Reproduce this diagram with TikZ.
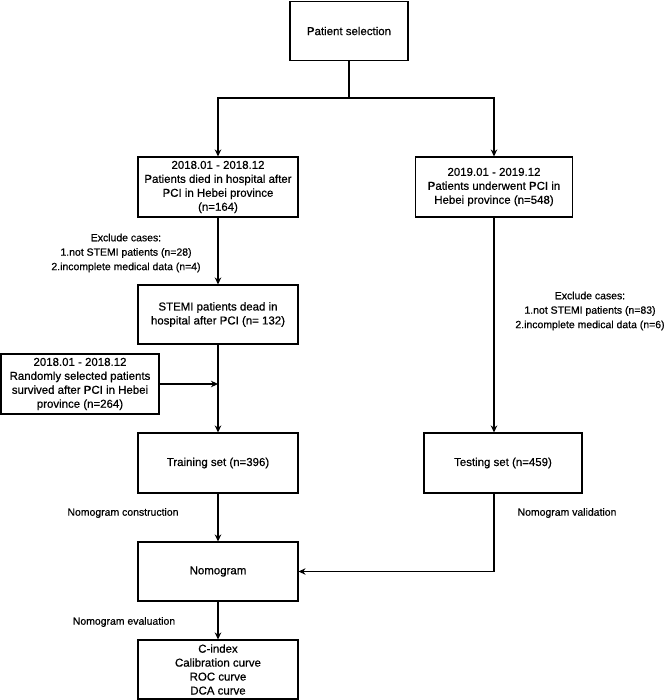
\documentclass[tikz,border=0pt]{standalone}
\usepackage{fontspec}
\setmainfont{Liberation Sans}
\usetikzlibrary{arrows.meta, positioning, calc}

\tikzset{
  box/.style={rectangle, draw=black, line width=1.1bp, fill=white,
              minimum width=160bp, minimum height=60bp, inner sep=1bp,
              align=center,
              font=\fontsize{11.5}{14}\selectfont\addfontfeatures{FakeBold=0.6}},
  note/.style={align=center, inner sep=0pt,
               font=\fontsize{10.5}{14.5}\selectfont\addfontfeatures{FakeBold=0.6}},
  link/.style={line width=1.1bp, draw=black},
  flow/.style={link, -{Stealth[length=7bp, width=6.5bp]}}
}

\begin{document}
\begin{tikzpicture}[x=1bp, y=-1bp]
    \useasboundingbox (0,0) rectangle (669,700);

    \node[box, minimum width=118bp, minimum height=59bp](sel) at (349,31)
         {Patient selection};
    \coordinate (split) at (349,98);

    \node[box](died) at (218,187)
         {2018.01 - 2018.12\\Patients died in hospital after\\PCI in Hebei province\\(n=164)};
    \node[box, minimum width=157bp](underwent) at (494,187)
         {2019.01 - 2019.12\\Patients underwent PCI in\\Hebei province (n=548)};

    \node[note](excl1) at (126,253)
         {Exclude cases:\\1.not STEMI patients (n=28)\\2.incomplete medical data (n=4)};

    \node[box, minimum height=59bp](stemi) at (218,314.5)
         {STEMI patients dead in\\hospital after PCI (n= 132)};

    \node[note](excl2) at (590,311)
         {Exclude cases:\\1.not STEMI patients (n=83)\\2.incomplete medical data (n=6)};

    \node[box, minimum width=158bp](random) at (80,384)
         {2018.01 - 2018.12\\Randomly selected patients\\survived after PCI in Hebei\\province (n=264)};

    \node[box](train) at (218,463){Training set (n=396)};
    \node[box, minimum width=158bp](test) at (503,463){Testing set (n=459)};

    \node[note](construct) at (123,513){Nomogram construction};
    \node[note](validate) at (567,513){Nomogram validation};

    \node[box, minimum height=59bp](nomo) at (218,571.5){Nomogram};

    \node[note](evaluate) at (124,622){Nomogram evaluation};

    \node[box, minimum height=59bp](eval) at (218,669.5)
         {C-index\\Calibration curve\\ROC curve\\DCA curve};

    \draw[link](sel.south) -- (split);
    \draw[flow](split) -| (died.north);
    \draw[flow](split) -| (underwent.north);
    \draw[flow](died.south) -- (stemi.north);
    \draw[flow](random.east) -- (random.east -| stemi.south);
    \draw[flow](stemi.south) -- (train.north);
    \draw[flow](underwent.south) -- (underwent.south |- test.north);
    \draw[flow](train.south) -- (nomo.north);
    \draw[flow](underwent.south |- test.south) |- (nomo.east);
    \draw[flow](nomo.south) -- (eval.north);
\end{tikzpicture}
\end{document}
